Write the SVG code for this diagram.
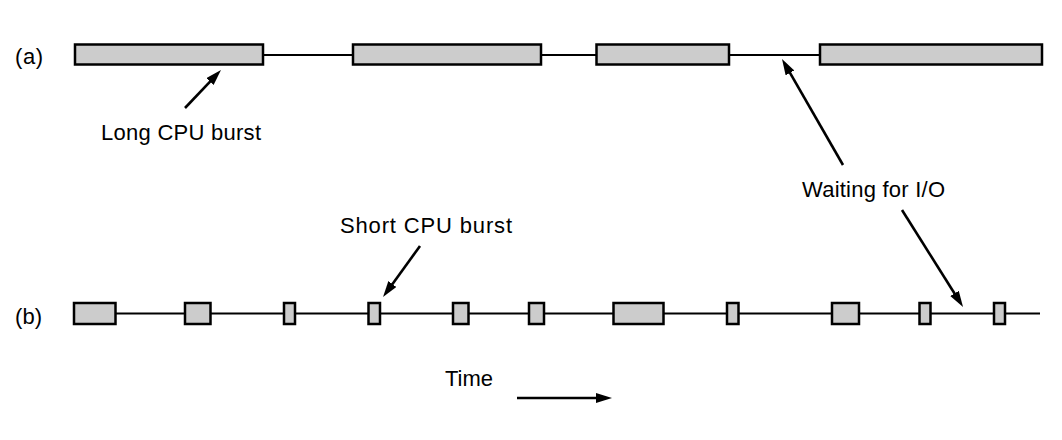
<svg xmlns="http://www.w3.org/2000/svg" width="1062" height="440" viewBox="0 0 1062 440">
<style>
.burst{fill:#cccccc;stroke:#000;stroke-width:2.5}
.wait{stroke:#000;stroke-width:2;fill:none}
.arr{stroke:#000;stroke-width:2.6;fill:none;marker-end:url(#ah)}
text{font-family:"Liberation Sans",Arial,sans-serif;font-size:22px;fill:#000}
</style>
<defs>
<marker id="ah" markerUnits="userSpaceOnUse" markerWidth="18" markerHeight="12" refX="6" refY="5" orient="auto">
<path d="M0,0 L16,5 L0,10 z" fill="#000"/>
</marker>
</defs>
<rect width="1062" height="440" fill="#fff"/>
<g id="labels">
<text x="15" y="64" textLength="28">(a)</text>
<text x="15" y="324" textLength="27">(b)</text>
</g>
<g id="timeline-a">
<line class="wait" x1="263" y1="55" x2="1042" y2="55"/>
<rect id="a1" class="burst" x="75" y="44.5" width="188" height="20"/>
<rect id="a2" class="burst" x="353" y="44.5" width="188" height="20"/>
<rect id="a3" class="burst" x="596.5" y="44.5" width="132.5" height="20"/>
<rect id="a4" class="burst" x="820" y="44.5" width="222" height="20"/>
</g>
<g id="timeline-b">
<line class="wait" x1="115" y1="313.5" x2="1040" y2="313.5"/>
<rect id="b1" class="burst" x="74" y="303" width="41.5" height="21"/>
<rect id="b2" class="burst" x="185" y="303" width="25.5" height="21"/>
<rect id="b3" class="burst" x="284" y="303" width="11" height="21"/>
<rect id="b4" class="burst" x="368.5" y="303" width="11.5" height="21"/>
<rect id="b5" class="burst" x="453" y="303" width="15.5" height="21"/>
<rect id="b6" class="burst" x="529" y="303" width="15" height="21"/>
<rect id="b7" class="burst" x="613.5" y="303" width="50" height="21"/>
<rect id="b8" class="burst" x="727" y="303" width="11.5" height="21"/>
<rect id="b9" class="burst" x="832" y="303" width="27" height="21"/>
<rect id="b10" class="burst" x="919.5" y="303" width="11" height="21"/>
<rect id="b11" class="burst" x="994" y="303" width="11" height="21"/>
</g>
<g id="long-cpu-label">
<text x="101" y="140" textLength="160">Long CPU burst</text>
</g>
<g id="waiting-label">
<text x="802" y="197" textLength="143">Waiting for I/O</text>
</g>
<g id="short-cpu-label">
<text x="340" y="233" textLength="172">Short CPU burst</text>
</g>
<g id="time-label">
<text x="445" y="386" textLength="48">Time</text>
</g>
<g id="connectors">
<line class="arr" x1="185" y1="108" x2="214.1" y2="77.3"/>
<line class="arr" x1="843" y1="165" x2="787" y2="67.7"/>
<line class="arr" x1="902" y1="210" x2="957.7" y2="298.5"/>
<line class="arr" x1="420" y1="246" x2="388.9" y2="288.9"/>
<line class="arr" x1="517" y1="398" x2="602" y2="398"/>
</g>
</svg>
